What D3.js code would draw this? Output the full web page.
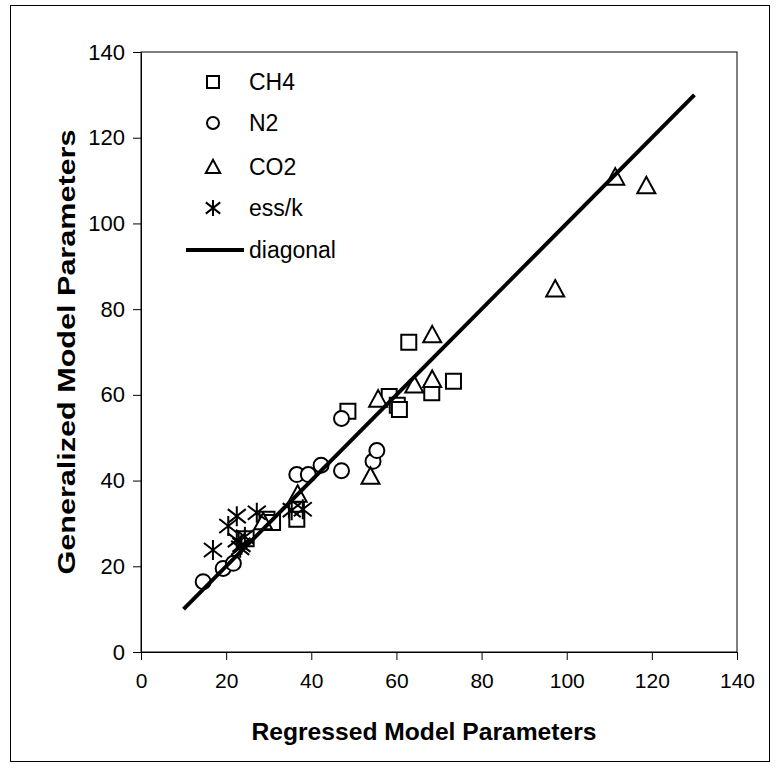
<!DOCTYPE html>
<html><head><meta charset="utf-8">
<script src="https://cdn.jsdelivr.net/npm/d3@7"></script>
<style>body{margin:0;background:#fff}svg{display:block}text{font-family:"Liberation Sans",Arial,sans-serif}</style>
</head><body>
<svg id="c" width="777" height="770"></svg>
<script>
const ch4 = [[62.9,72.3],[48.6,56.2],[58.3,59.6],[60.2,57.6],[60.7,56.6],[68.3,60.5],[73.4,63.2],[36.5,33.2],[36.6,31.0],[29.6,31.0],[30.9,30.2],[24.7,26.4]];
const n2 = [[14.6,16.4],[19.3,19.5],[21.7,20.7],[36.6,41.4],[39.3,41.4],[42.3,43.6],[47.1,42.3],[47.1,54.5],[54.5,44.5],[55.4,47.0]];
const co2 = [[111.4,110.8],[118.7,108.8],[97.3,84.7],[68.4,74.0],[64.2,62.3],[68.4,63.6],[55.7,59.0],[53.9,41.0],[36.8,36.8],[28.7,30.4]];
const essk = [[16.9,23.8],[20.5,29.4],[22.5,31.7],[27.2,32.5],[35.4,33.1],[38.0,33.3],[22.5,26.1],[23.6,25.0],[23.3,24.3],[24.4,26.9]];
const diagonal = [[10,10],[130,130]];
const xTicks = [0,20,40,60,80,100,120,140];
const yTicks = [0,20,40,60,80,100,120,140];
const legendItems = ["CH4","N2","CO2","ess/k","diagonal"];

const svg = d3.select("#c");
const L=141, R=737, T=52, B=652;
const x = d3.scaleLinear().domain([0,140]).range([L,R]);
const y = d3.scaleLinear().domain([0,140]).range([B,T]);

svg.append("rect").attr("x",10.5).attr("y",5.5).attr("width",759).attr("height",756)
  .attr("fill","none").attr("stroke","#000").attr("stroke-width",1);
svg.append("rect").attr("x",L).attr("y",T).attr("width",R-L).attr("height",B-T)
  .attr("fill","none").attr("stroke","#000").attr("stroke-width",1);

const xa = svg.append("g").attr("transform",`translate(0,${B})`)
  .call(d3.axisBottom(x).tickValues(xTicks).tickSize(8).tickPadding(13).tickSizeOuter(0));
xa.selectAll("text").attr("font-size",21).attr("fill","#000");
const ya = svg.append("g").attr("transform",`translate(${L},0)`)
  .call(d3.axisLeft(y).tickValues(yTicks).tickSize(8).tickPadding(8).tickSizeOuter(0));
ya.selectAll("text").attr("font-size",22).attr("fill","#000");
svg.selectAll(".domain").attr("stroke","#000");
svg.selectAll(".tick line").attr("stroke","#000");

svg.append("text").attr("x",424).attr("y",740).attr("text-anchor","middle")
  .attr("font-size",24).attr("font-weight","bold")
  .attr("textLength",345).attr("lengthAdjust","spacingAndGlyphs").text("Regressed Model Parameters");
svg.append("text").attr("transform",`translate(75,352) rotate(-90)`).attr("text-anchor","middle")
  .attr("font-size",24).attr("font-weight","bold")
  .attr("textLength",445).attr("lengthAdjust","spacingAndGlyphs").text("Generalized Model Parameters");

const S=7.5;
const shapes = {
  square: `M${-S},${-S}H${S}V${S}H${-S}Z`,
  circle: d3.symbol().type(d3.symbolCircle).size(Math.PI*S*S)(),
  triangle: `M0,${-S-1.5}L${S+1.5},${S}L${-S-1.5},${S}Z`,
  star: `M0,-10V10M-9,-7L9,7M-9,7L9,-7`
};
function plot(data, shape, fill){
  svg.append("g").selectAll("path").data(data).join("path")
    .attr("transform",d=>`translate(${x(d[0])},${y(d[1])})`)
    .attr("d",shapes[shape]).attr("fill",fill).attr("stroke","#000").attr("stroke-width",2);
}
plot(ch4,"square","#fff");
plot(n2,"circle","#fff");
plot(co2,"triangle","#fff");
plot(essk,"star","none");

svg.append("path").datum(diagonal)
  .attr("d",d3.line().x(d=>x(d[0])).y(d=>y(d[1])))
  .attr("stroke","#000").attr("stroke-width",4).attr("fill","none");

// legend
const lgY=[82,123,167,208,250];
const lgShapes=["square","circle","triangle","star"];
const ls=0.8;
lgShapes.forEach((s,i)=>{
  svg.append("path").attr("transform",`translate(213,${lgY[i]}) scale(${ls})`)
    .attr("d",shapes[s]).attr("fill",s==="star"?"none":"#fff").attr("stroke","#000").attr("stroke-width",2/ls);
});
svg.append("line").attr("x1",186).attr("x2",244).attr("y1",lgY[4]).attr("y2",lgY[4])
  .attr("stroke","#000").attr("stroke-width",4);
legendItems.forEach((t,i)=>{
  svg.append("text").attr("x",249).attr("y",lgY[i]).attr("dy","0.35em").attr("font-size",23).text(t);
});
</script>
</body></html>
